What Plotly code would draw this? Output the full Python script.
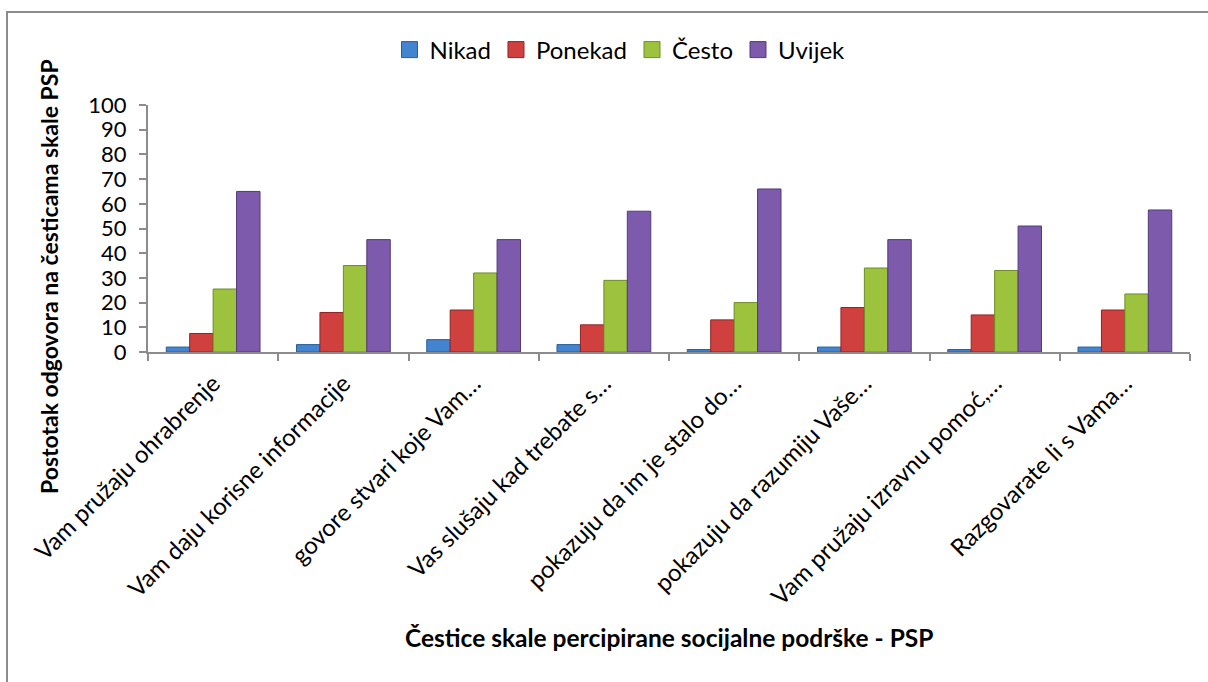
import plotly.graph_objects as go

categories = [
    "Vam pružaju ohrabrenje",
    "Vam daju korisne informacije",
    "govore stvari koje Vam…",
    "Vas slušaju kad trebate s…",
    "pokazuju da im je stalo do…",
    "pokazuju da razumiju Vaše…",
    "Vam pružaju izravnu pomoć,…",
    "Razgovarate li s Vama…",
]
nikad = [2, 3, 5, 3, 1, 2, 1, 2]
ponekad = [7.5, 16, 17, 11, 13, 18, 15, 17]
cesto = [25.5, 35, 32, 29, 20, 34, 33, 23.5]
uvijek = [65, 45.5, 45.5, 57, 66, 45.5, 51, 57.5]

series_names = ["Nikad", "Ponekad", "Često", "Uvijek"]
series_values = [nikad, ponekad, cesto, uvijek]
colors = ["#4384d0", "#d0403e", "#9dc23e", "#7d5aab"]
edge = ["#2c5e96", "#8f2523", "#6f8c26", "#553a7a"]

FONT = "Lato, Carlito, Calibri, sans-serif"

fig = go.Figure()
for name, vals, c, e in zip(series_names, series_values, colors, edge):
    fig.add_trace(go.Bar(
        name=name, x=categories, y=vals, showlegend=False,
        marker=dict(color=c, line=dict(color=e, width=1)),
    ))
# legend entries with larger square swatches
for name, c, e in zip(series_names, colors, edge):
    fig.add_trace(go.Scatter(
        name=name, x=[None], y=[None], mode="markers",
        marker=dict(symbol="square", size=16, color=c, line=dict(color=e, width=1)),
    ))

# plot area in pixels
W, H = 1208, 682
L, R, T, B = 148, 1190, 105, 352
pw, ph = R - L, B - T

def px(x):
    return (x - L) / pw

def py(y):
    return (B - y) / ph

fig.update_layout(
    width=W, height=H,
    margin=dict(l=L, r=W - R, t=T, b=H - B, autoexpand=False),
    paper_bgcolor="white", plot_bgcolor="white",
    barmode="group", bargap=0.28, bargroupgap=0,
    font=dict(family=FONT, size=24, color="black"),
    showlegend=True,
    legend=dict(
        orientation="h", x=px(620), xanchor="center", y=py(50), yanchor="middle",
        font=dict(size=24), itemwidth=30, bgcolor="rgba(0,0,0,0)",
        traceorder="normal", itemsizing="trace",
    ),
    xaxis=dict(
        type="category", tickangle=-45, showline=True, linecolor="#8c8c8c", linewidth=2,
        ticks="outside", tickson="boundaries", ticklen=7, tickcolor="#8c8c8c", tickwidth=2,
        showgrid=False, tickfont=dict(size=24), automargin=False, ticklabelstandoff=6,
    ),
    yaxis=dict(
        range=[0, 100], dtick=10, showline=True, linecolor="#8c8c8c", linewidth=2,
        ticks="outside", ticklen=7, tickcolor="#8c8c8c", tickwidth=2,
        showgrid=False, zeroline=False, tickfont=dict(size=22), automargin=False,
        ticklabelstandoff=8,
    ),
    shapes=[dict(
        type="rect", xref="paper", yref="paper",
        x0=px(7), x1=px(1230), y0=py(700), y1=py(12),
        line=dict(color="#8c8c8c", width=2), fillcolor="rgba(0,0,0,0)", layer="below",
    )],
    annotations=[
        dict(text="<b>Postotak odgovora na česticama skale PSP</b>", xref="paper", yref="paper",
             x=px(49), y=py(277), xanchor="center", yanchor="middle", textangle=-90,
             showarrow=False, font=dict(size=23, family=FONT)),
        dict(text="<b>Čestice skale percipirane socijalne podrške - PSP</b>", xref="paper", yref="paper",
             x=px(669), y=py(637), xanchor="center", yanchor="middle",
             showarrow=False, font=dict(size=24.5, family=FONT)),
    ],
)

fig.write_html("out.html", config={"displayModeBar": False},
               post_script="document.body.style.margin='0';")
